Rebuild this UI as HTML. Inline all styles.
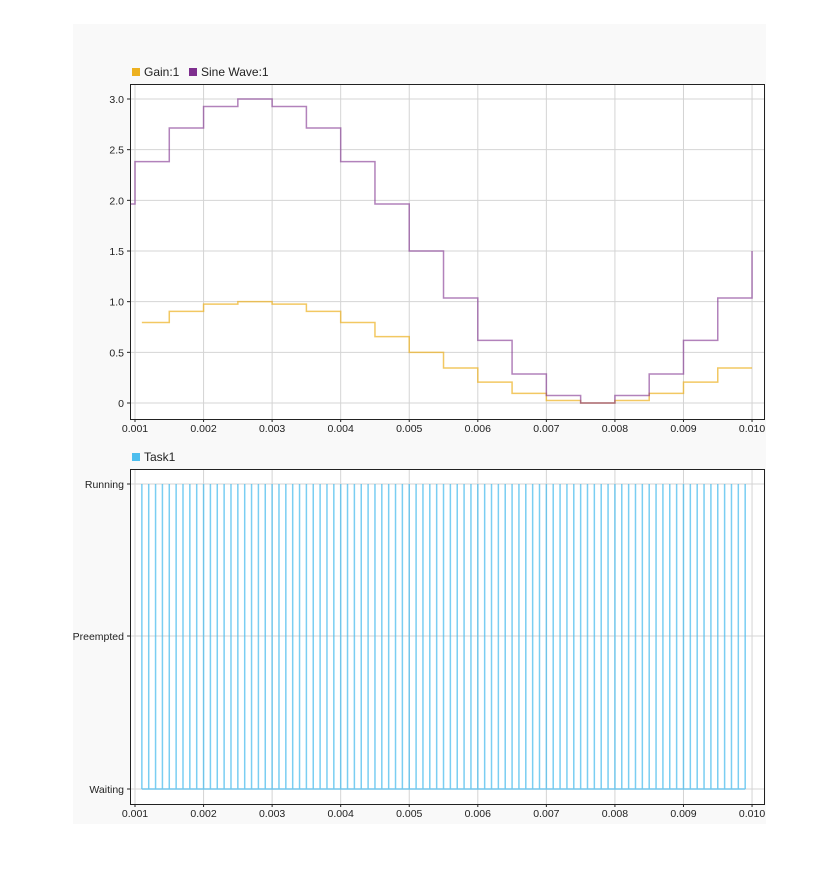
<!DOCTYPE html>
<html><head><meta charset="utf-8"><style>
body{margin:0;background:#fff;width:839px;height:872px;overflow:hidden;font-family:"Liberation Sans",sans-serif}
</style></head><body>
<svg id="s" width="839" height="872" xmlns="http://www.w3.org/2000/svg" font-family="Liberation Sans, sans-serif" font-size="10.5" fill="#222">
<rect x="73" y="24" width="693" height="800" fill="#f9f9f9"/>
<rect x="130" y="84" width="634" height="335" fill="#fff"/>
<rect x="130" y="469" width="634" height="335" fill="#fff"/>
<g id="grid" stroke="#d4d4d4" stroke-width="1"></g>
<g id="data"></g>
<rect x="130.5" y="84.5" width="634" height="335" fill="none" stroke="#222"/>
<rect x="130.5" y="469.5" width="634" height="335" fill="none" stroke="#222"/>
<g id="labels"></g>
<rect x="132" y="68" width="8" height="8" fill="#EDB120"/>
<text x="144" y="76" font-size="12">Gain:1</text>
<rect x="189" y="68" width="8" height="8" fill="#7E2F8E"/>
<text x="201" y="76" font-size="12">Sine Wave:1</text>
<rect x="132" y="453" width="8" height="8" fill="#4DBEEE"/>
<text x="144" y="461" font-size="12">Task1</text>
</svg>
<script>
const NS="http://www.w3.org/2000/svg";
function el(p,t,a,txt){const e=document.createElementNS(NS,t);for(const k in a)e.setAttribute(k,a[k]);if(txt!==undefined)e.textContent=txt;document.getElementById(p).appendChild(e);return e;}
const X=t=>135+(t-0.001)/0.001*68.56;
const Y=v=>403-v*101.33;
// grid + x labels
for(let i=1;i<=10;i++){const x=X(i/1000);
 el('grid','line',{x1:x,x2:x,y1:85,y2:419});
 el('grid','line',{x1:x,x2:x,y1:470,y2:804});
 const lab=(i/1000).toFixed(3);
 el('labels','text',{x:x,y:432,'text-anchor':'middle'},lab);
 el('labels','text',{x:x,y:817,'text-anchor':'middle'},lab);
 el('labels','line',{x1:x,x2:x,y1:419,y2:422,stroke:'#222'});
 el('labels','line',{x1:x,x2:x,y1:804,y2:807,stroke:'#222'});
}
const yl=[[0,'0'],[0.5,'0.5'],[1,'1.0'],[1.5,'1.5'],[2,'2.0'],[2.5,'2.5'],[3,'3.0']];
for(const [v,l] of yl){const y=Y(v);
 el('grid','line',{x1:131,x2:764,y1:y,y2:y});
 el('labels','text',{x:124,y:y+4,'text-anchor':'end'},l);
 el('labels','line',{x1:127,x2:130,y1:y,y2:y,stroke:'#222'});
}
for(const [y,l] of [[484,'Running'],[636,'Preempted'],[789,'Waiting']]){
 el('grid','line',{x1:131,x2:764,y1:y,y2:y});
 el('labels','text',{x:124,y:y+4,'text-anchor':'end'},l);
 el('labels','line',{x1:127,x2:130,y1:y,y2:y,stroke:'#222'});
}
const sv=t=>1.5+1.5*Math.sin(2*Math.PI*t/0.01);
// sine
let d=`M130,${Y(sv(0.0005))} H${X(0.001)}`;
for(let k=0;k<18;k++){const t=0.001+k*0.0005;d+=` V${Y(sv(t))} H${X(t+0.0005)}`;}
d+=` V${Y(sv(0.01))}`;
// gain
let g=`M${X(0.0011)},${Y(sv(0.001)/3)} H${X(0.0015)}`;
for(let k=1;k<18;k++){const t=0.001+k*0.0005;g+=` V${Y(sv(t)/3)} H${X(t+0.0005)}`;}
el('data','path',{d:g,fill:'none',stroke:'#EDB120','stroke-opacity':0.7,'stroke-width':1.5});
el('data','path',{d:d,fill:'none',stroke:'#7E2F8E','stroke-opacity':0.6,'stroke-width':1.5});
// task
let p=`M${X(0.0011)},789 H${X(0.0099)}`;
for(let k=11;k<=99;k++){const x=X(k/10000);p+=` M${x},789 V484`;}
el('data','path',{d:p,fill:'none',stroke:'#4DBEEE','stroke-opacity':0.75,'stroke-width':1.5});
</script>
</body></html>
